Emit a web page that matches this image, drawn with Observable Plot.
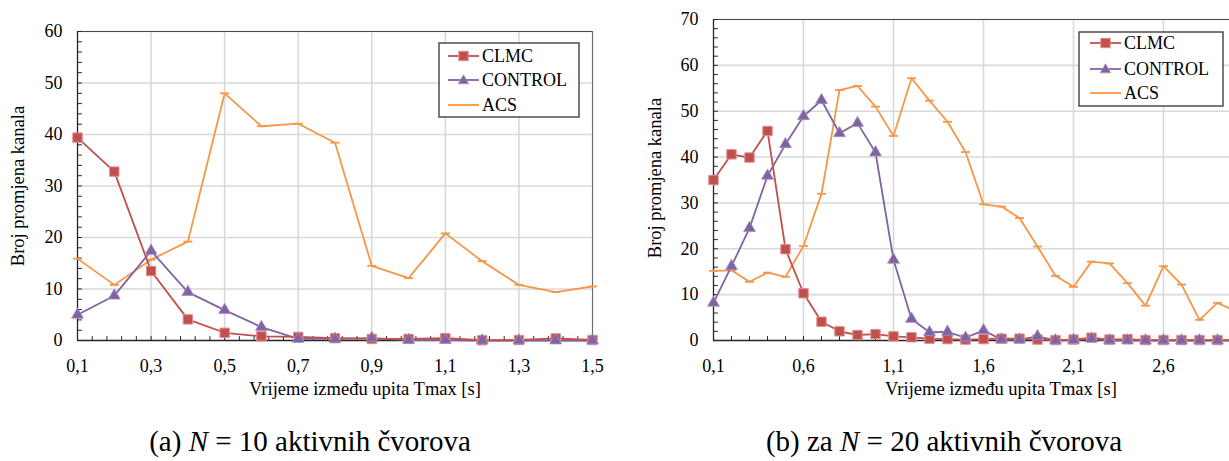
<!DOCTYPE html>
<html>
<head>
<meta charset="utf-8">
<script src="https://cdn.jsdelivr.net/npm/d3@7"></script>
<script src="https://cdn.jsdelivr.net/npm/@observablehq/plot@0.6"></script>
<style>
  html, body { margin: 0; padding: 0; background: #fff; overflow: hidden; }
  #wrap { position: relative; width: 1229px; height: 461px; overflow: hidden; background: #fff;
          font-family: "Liberation Serif", "DejaVu Serif", serif; color: #000; }
  .chart { position: absolute; top: 0; }
  .xtitle, .ytitle, .caption { position: absolute; white-space: nowrap; }
  .xtitle { font-size: 18.5px; transform: translate(-50%, -50%); }
  .ytitle { font-size: 18.5px; transform: translate(-50%, -50%) rotate(-90deg); }
  .caption { font-size: 29px; transform: translate(-50%, -50%); }
  .legend { position: absolute; }
</style>
</head>
<body>
<div id="wrap"></div>
<script>
// ---------- data ----------
// (a) N = 10 active nodes
const tmaxA    = [0.1, 0.2, 0.3, 0.4, 0.5, 0.6, 0.7, 0.8, 0.9, 1.0, 1.1, 1.2, 1.3, 1.4, 1.5];
const clmcA    = [39.4, 32.8, 13.5, 4.1, 1.5, 0.8, 0.7, 0.45, 0.3, 0.3, 0.45, 0.05, 0.1, 0.4, 0.1];
const controlA = [5.0, 8.7, 17.4, 9.4, 5.9, 2.6, 0.3, 0.3, 0.45, 0.1, 0.1, 0, 0, 0, 0];
const acsA     = [15.9, 10.8, 15.7, 19.2, 48.0, 41.6, 42.1, 38.4, 14.5, 12.1, 20.8, 15.4, 10.8, 9.4, 10.5];

// (b) N = 20 active nodes
const tmaxB    = [0.1, 0.2, 0.3, 0.4, 0.5, 0.6, 0.7, 0.8, 0.9, 1.0, 1.1, 1.2, 1.3, 1.4, 1.5,
                  1.6, 1.7, 1.8, 1.9, 2.0, 2.1, 2.2, 2.3, 2.4, 2.5, 2.6, 2.7, 2.8, 2.9, 3.0];
const clmcB    = [35.0, 40.6, 39.9, 45.7, 19.9, 10.3, 4.1, 2.0, 1.2, 1.4, 0.9, 0.7, 0.4, 0.3, 0.2,
                  0.3, 0.4, 0.4, 0.2, 0.1, 0.2, 0.6, 0.2, 0.3, 0.1, 0.1, 0.1, 0.1, 0.1, 0.1];
const controlB = [8.2, 16.2, 24.5, 35.9, 42.8, 48.9, 52.4, 45.2, 47.4, 41.0, 17.6, 4.7, 1.8, 1.9, 0.6,
                  2.2, 0.2, 0.2, 0.9, 0, 0.1, 0.4, 0, 0, 0, 0, 0, 0, 0, 0];
const acsB     = [15.2, 15.3, 12.8, 14.8, 13.9, 20.6, 32.0, 54.6, 55.5, 51.0, 44.6, 57.2, 52.3, 47.7, 41.1,
                  29.7, 29.2, 26.7, 20.5, 14.1, 11.7, 17.2, 16.8, 12.5, 7.6, 16.2, 12.2, 4.5, 8.2, 6.4];

// tick labels
const xTicksA = [0.1, 0.3, 0.5, 0.7, 0.9, 1.1, 1.3, 1.5];
const yTicksA = [0, 10, 20, 30, 40, 50, 60];
const xTicksB = [0.1, 0.6, 1.1, 1.6, 2.1, 2.6];
const yTicksB = [0, 10, 20, 30, 40, 50, 60, 70];

const seriesNames = ["CLMC", "CONTROL", "ACS"];
const xTitle = "Vrijeme između upita Tmax [s]";
const yTitle = "Broj promjena kanala";

// ---------- styling ----------
const FONT = '"Liberation Serif", "DejaVu Serif", serif';
const COL = { CLMC: "#C0504D", CONTROL: "#8064A2", ACS: "#F79646" };
const EDGE = { CLMC: "#e08f8c", CONTROL: "#a58fc4" };
const GRID = "#d9d9d9";
const AXIS = "#262626";

const tickShape = { draw(ctx, l) { ctx.moveTo(0, 0); ctx.lineTo(0, -l); } };
const dashSymbol = { draw(ctx, size) { const w = Math.sqrt(size / Math.PI); ctx.moveTo(-w, 0); ctx.lineTo(w, 0); } };
const fmt = d => d.toFixed(1).replace(".", ",");

function rows(t, a, b, c) {
  return t.map((x, i) => ({ t: x, CLMC: a[i], CONTROL: b[i], ACS: c[i] }));
}

function chart(cfg) {
  const data = rows(cfg.t, cfg.clmc, cfg.control, cfg.acs);
  const [x0, x1] = cfg.xDomain, [y0, y1] = cfg.yDomain;
  const xMinor = d3.range(x0, x1 + 1e-9, cfg.xMinorStep);
  const yMinor = d3.range(y0, y1 + 1e-9, 2);
  return Plot.plot({
    width: cfg.width, height: 400,
    marginLeft: cfg.marginLeft, marginRight: cfg.marginRight,
    marginTop: cfg.marginTop, marginBottom: 60,
    x: { domain: cfg.xDomain },
    y: { domain: cfg.yDomain },
    style: { fontFamily: FONT, fontSize: "18px", color: "#000", background: "transparent", overflow: "visible" },
    marks: [
      Plot.gridX(cfg.xTicks.filter(d => d !== x0), { stroke: GRID, strokeOpacity: 1, strokeWidth: 1.6 }),
      Plot.gridY(cfg.yTicks.filter(d => d !== y0), { stroke: GRID, strokeOpacity: 1, strokeWidth: 1.6 }),
      Plot.ruleY([y1], { stroke: "#4a4a4a", strokeWidth: 1 }),
      Plot.ruleX([x1], { stroke: "#6a6a6a", strokeWidth: 1 }),
      Plot.vector(xMinor, { x: d => d, y: () => y0, length: 4, rotate: 0, anchor: "start", shape: tickShape, stroke: AXIS, strokeWidth: 1 }),
      Plot.vector(yMinor, { x: () => x0, y: d => d, length: 4, rotate: 90, anchor: "start", shape: tickShape, stroke: AXIS, strokeWidth: 1 }),
      Plot.ruleX([x0], { stroke: AXIS, strokeWidth: 1.3 }),
      Plot.ruleY([y0], { stroke: AXIS, strokeWidth: 1.3 }),
      Plot.axisX(cfg.xTicks, { tickSize: 0, tickPadding: 19, tickFormat: fmt, label: null, fontSize: 18 }),
      Plot.axisY(cfg.yTicks, { tickSize: 0, tickPadding: 15, label: null, fontSize: 18 }),
      Plot.line(data, { x: "t", y: "ACS", stroke: COL.ACS, strokeWidth: 1.8 }),
      Plot.dot(data, { x: "t", y: "ACS", symbol: dashSymbol, r: 4.5, stroke: COL.ACS, strokeWidth: 1.8, fill: "none" }),
      Plot.line(data, { x: "t", y: "CONTROL", stroke: COL.CONTROL, strokeWidth: 1.8 }),
      Plot.line(data, { x: "t", y: "CLMC", stroke: COL.CLMC, strokeWidth: 1.8 }),
      Plot.dot(data, { x: "t", y: "CLMC", symbol: "square", r: 5.3, fill: COL.CLMC, stroke: EDGE.CLMC, strokeWidth: 1 }),
      Plot.dot(data, { x: "t", y: "CONTROL", symbol: "triangle", r: 4.4, fill: COL.CONTROL, stroke: EDGE.CONTROL, strokeWidth: 0.8 })
    ]
  });
}

function legend(left, top, w, h, ys, lineX0, lineX1, textX) {
  const ns = "http://www.w3.org/2000/svg";
  const svg = document.createElementNS(ns, "svg");
  svg.setAttribute("width", w + 2); svg.setAttribute("height", h + 2);
  svg.setAttribute("class", "legend");
  svg.style.left = (left - 1) + "px"; svg.style.top = (top - 1) + "px";
  const el = (tag, attrs) => { const e = document.createElementNS(ns, tag); for (const k in attrs) e.setAttribute(k, attrs[k]); svg.appendChild(e); return e; };
  el("rect", { x: 1, y: 1, width: w, height: h, fill: "#fff", stroke: "#404040", "stroke-width": 1.4 });
  seriesNames.forEach((name, i) => {
    const y = ys[i] + 1, cx = (lineX0 + lineX1) / 2 + 1;
    el("line", { x1: lineX0 + 1, x2: lineX1 + 1, y1: y, y2: y, stroke: COL[name], "stroke-width": 1.8 });
    if (name === "CLMC") el("rect", { x: cx - 4.7, y: y - 4.7, width: 9.4, height: 9.4, fill: COL.CLMC, stroke: EDGE.CLMC, "stroke-width": 1 });
    if (name === "CONTROL") el("path", { d: `M${cx},${y - 5.2}L${cx + 5.2},${y + 3.8}L${cx - 5.2},${y + 3.8}Z`, fill: COL.CONTROL, stroke: EDGE.CONTROL, "stroke-width": 0.8 });
    const t = el("text", { x: textX + 1, y: y, dy: "0.35em", "font-family": FONT, "font-size": 18, fill: "#000" });
    t.textContent = name;
  });
  return svg;
}

function addText(cls, html, x, y) {
  const d = document.createElement("div");
  d.className = cls; d.innerHTML = html;
  d.style.left = x + "px"; d.style.top = y + "px";
  wrap.appendChild(d);
}

const wrap = document.getElementById("wrap");

const a = chart({ t: tmaxA, clmc: clmcA, control: controlA, acs: acsA,
  xDomain: [0.1, 1.5], yDomain: [0, 60], xTicks: xTicksA, yTicks: yTicksA, xMinorStep: 0.04,
  width: 620, marginLeft: 77, marginRight: 28, marginTop: 31 });
a.classList.add("chart"); a.style.left = "0px";
wrap.appendChild(a);

const b = chart({ t: tmaxB, clmc: clmcB, control: controlB, acs: acsB,
  xDomain: [0.1, 3.0], yDomain: [0, 70], xTicks: xTicksB, yTicks: yTicksB, xMinorStep: 0.1,
  width: 630, marginLeft: 83, marginRight: 25, marginTop: 19 });
b.classList.add("chart"); b.style.left = "630px";
wrap.appendChild(b);

wrap.appendChild(legend(439, 43, 140, 74, [13, 37, 62], 9, 40, 43));
wrap.appendChild(legend(1079, 32, 144, 74, [11, 37, 61], 11, 42, 45));

addText("ytitle", yTitle, 18, 186);
addText("ytitle", yTitle, 655, 178);
addText("xtitle", xTitle, 365, 389);
addText("xtitle", xTitle, 1001, 389);
addText("caption", "(a) <i>N</i> = 10 aktivnih čvorova", 310, 441);
addText("caption", "(b) za <i>N</i> = 20 aktivnih čvorova", 944, 441);
</script>
</body>
</html>
